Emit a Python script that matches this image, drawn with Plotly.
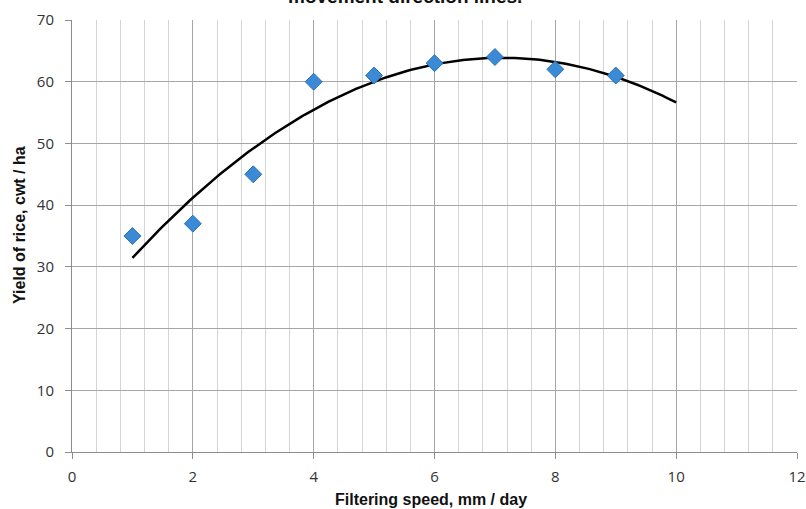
import numpy as np
import plotly.graph_objects as go

speed = [1, 2, 3, 4, 5, 6, 7, 8, 9]
yield_rice = [35, 37, 45, 60, 61, 63, 64, 62, 61]
trend_from, trend_to = 1, 10

coef = np.polyfit(speed, yield_rice, 2)
tx = np.linspace(trend_from, trend_to, 200)
ty = np.polyval(coef, tx)

fig = go.Figure()
fig.add_trace(go.Scatter(x=tx, y=ty, mode="lines",
                         line=dict(color="black", width=2.5), showlegend=False))
fig.add_trace(go.Scatter(x=speed, y=yield_rice, mode="markers",
                         marker=dict(symbol="diamond", size=13, color="#3B8AD6",
                                     line=dict(color="#2A6FB8", width=1)),
                         showlegend=False))

fig.add_annotation(text="<b>movement direction lines.</b>", xref="paper", yref="paper",
                   x=(405 - 72) / 725, y=1, xanchor="center", yanchor="bottom",
                   yshift=11, showarrow=False,
                   font=dict(family="Liberation Sans", size=19, color="#111"))
fig.add_annotation(text="<b>Filtering speed, mm / day</b>", xref="paper", yref="paper",
                   x=(431 - 72) / 725, y=0, xanchor="center", yanchor="middle",
                   yshift=-47, showarrow=False,
                   font=dict(family="Liberation Sans", size=16, color="#111"))
fig.add_annotation(text="<b>Yield of rice, cwt / ha</b>", xref="paper", yref="paper",
                   x=0, y=(452 - 225) / 432, xanchor="center", yanchor="middle",
                   xshift=-53, textangle=-90, showarrow=False,
                   font=dict(family="Liberation Sans", size=16, color="#111"))

fig.update_layout(
    width=806, height=509,
    margin=dict(l=72, r=9, t=20, b=57),
    plot_bgcolor="white", paper_bgcolor="white",
    xaxis=dict(range=[0, 12], dtick=2, tick0=0, automargin=False,
               showgrid=True, gridcolor="#a6a6a6", gridwidth=1,
               minor=dict(dtick=0.4, showgrid=True, gridcolor="#d4d4d4", gridwidth=1),
               showline=True, linecolor="#8c8c8c", linewidth=1,
               ticks="outside", ticklen=6, tickcolor="#8c8c8c",
               ticklabelstandoff=5,
               zeroline=False,
               tickfont=dict(family="Open Sans", size=15, color="#333")),
    yaxis=dict(range=[0, 70], dtick=10, automargin=False,
               showgrid=True, gridcolor="#a6a6a6", gridwidth=1,
               showline=True, linecolor="#8c8c8c", linewidth=1,
               ticks="outside", ticklen=6, tickcolor="#8c8c8c",
               ticklabelstandoff=8,
               zeroline=False,
               tickfont=dict(family="Open Sans", size=15, color="#333")),
)

fig.write_html("out.html", config={"displayModeBar": False},
               post_script="document.body.style.margin='0';document.body.style.overflow='hidden';")
